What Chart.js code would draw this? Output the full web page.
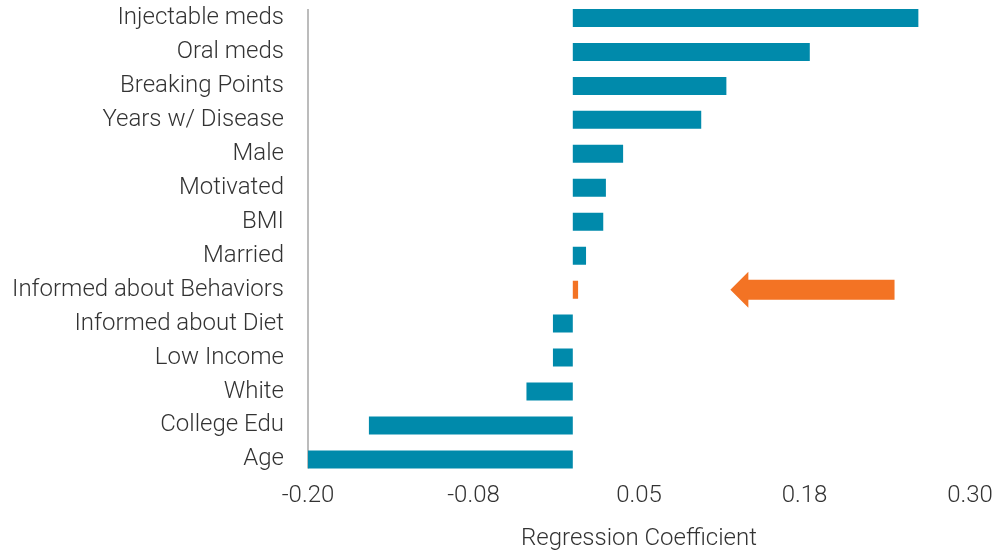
<!DOCTYPE html>
<html>
<head>
<meta charset="utf-8">
<script src="https://cdn.jsdelivr.net/npm/chart.js@4/dist/chart.umd.min.js"></script>
<style>
  html, body { margin: 0; padding: 0; background: #fff; }
  #chart { display: block; }
</style>
</head>
<body>
<canvas id="chart" width="999" height="556"></canvas>
<script>
var categorias = ['Injectable meds', 'Oral meds', 'Breaking Points', 'Years w/ Disease', 'Male', 'Motivated', 'BMI', 'Married',
  'Informed about Behaviors', 'Informed about Diet', 'Low Income', 'White', 'College Edu', 'Age'];
var coeficientes = [0.261, 0.179, 0.116, 0.097, 0.038, 0.025, 0.023, 0.010, 0.004, -0.015, -0.015, -0.035, -0.154, -0.200];
var destaque = 'Informed about Behaviors';
var tickLabels = ['-0.20', '-0.08', '0.05', '0.18', '0.30'];
// seta: do valor 0.243 ate 0.119 na linha do destaque
var setaDe = 0.243;
var setaAte = 0.119;

var TEAL = '#008AAB';
var LARANJA = '#F37324';
var TEXTO = '#333333';

var cores = categorias.map(function(c){ return c === destaque ? LARANJA : TEAL; });

// linha vertical do eixo, so do topo da primeira barra ao fim da ultima
var eixoPlugin = {
  id: 'eixoY',
  beforeDatasetsDraw: function(chart) {
    var meta = chart.getDatasetMeta(0);
    var prim = meta.data[0], ult = meta.data[meta.data.length - 1];
    var x = chart.scales.x.getPixelForValue(-0.2);
    var ctx = chart.ctx;
    ctx.save();
    ctx.strokeStyle = '#A6A6A6';
    ctx.lineWidth = 1.5;
    ctx.beginPath();
    ctx.moveTo(x, prim.y - prim.height / 2);
    ctx.lineTo(x, ult.y + ult.height / 2);
    ctx.stroke();
    ctx.restore();
  }
};

var setaPlugin = {
  id: 'seta',
  afterDatasetsDraw: function(chart) {
    var xs = chart.scales.x, ys = chart.scales.y;
    var y = ys.getPixelForValue(categorias.indexOf(destaque));
    var xPonta = xs.getPixelForValue(setaAte);
    var xCauda = xs.getPixelForValue(setaDe);
    var ctx = chart.ctx;
    ctx.save();
    ctx.fillStyle = LARANJA;
    ctx.beginPath();
    ctx.moveTo(xPonta, y);
    ctx.lineTo(xPonta + 18, y - 18);
    ctx.lineTo(xPonta + 18, y - 10);
    ctx.lineTo(xCauda, y - 10);
    ctx.lineTo(xCauda, y + 10);
    ctx.lineTo(xPonta + 18, y + 10);
    ctx.lineTo(xPonta + 18, y + 18);
    ctx.closePath();
    ctx.fill();
    ctx.restore();
  }
};

Chart.defaults.font.family = 'Roboto, "Open Sans", sans-serif';
Chart.defaults.font.weight = 300;
Chart.defaults.color = TEXTO;

new Chart(document.getElementById('chart'), {
  type: 'bar',
  data: {
    labels: categorias,
    datasets: [{
      data: coeficientes,
      backgroundColor: cores,
      borderWidth: 0,
      categoryPercentage: 1,
      barPercentage: 0.53
    }]
  },
  options: {
    indexAxis: 'y',
    responsive: false,
    animation: false,
    layout: { padding: { top: 1, right: 29, bottom: 3, left: 0 } },
    plugins: { legend: { display: false }, tooltip: { enabled: false } },
    scales: {
      x: {
        min: -0.2,
        max: 0.3,
        ticks: {
          stepSize: 0.125,
          padding: 5,
          font: { size: 24, weight: 300 },
          color: TEXTO,
          maxRotation: 0,
          callback: function(v, i){ return tickLabels[i]; }
        },
        grid: { display: false, drawTicks: false },
        border: { display: false },
        title: {
          display: true,
          text: 'Regression Coefficient',
          font: { size: 24, weight: 300 },
          color: TEXTO,
          padding: { top: 9, bottom: 0 }
        }
      },
      y: {
        afterFit: function(scale){
          scale.width = 308;
          scale.paddingTop = 0;
          scale.paddingBottom = 0;
        },
        ticks: {
          padding: 24,
          font: { size: 24, weight: 300 },
          color: TEXTO,
          autoSkip: false
        },
        grid: { display: false, drawTicks: false },
        border: { display: false }
      }
    }
  },
  plugins: [eixoPlugin, setaPlugin]
});
</script>
</body>
</html>
